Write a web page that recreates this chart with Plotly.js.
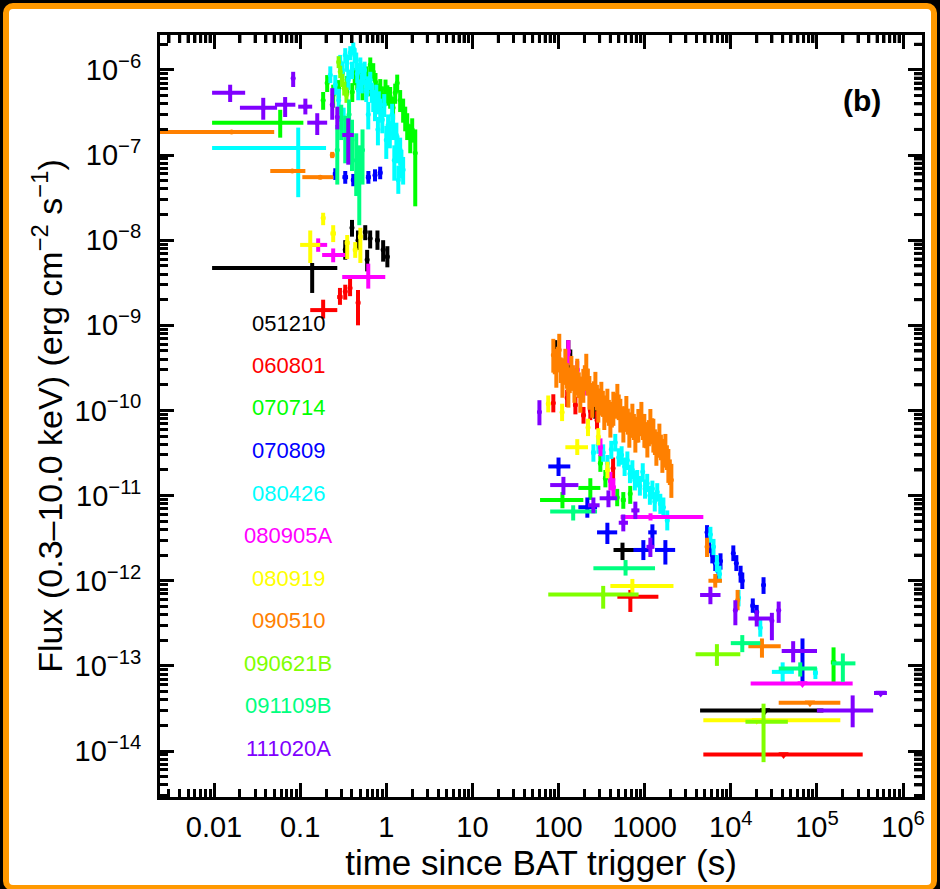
<!DOCTYPE html>
<html>
<head>
<meta charset="utf-8">
<script src="https://cdn.plot.ly/plotly-3.0.1.min.js"></script>
<style>
  html, body { margin:0; padding:0; background:#000; width:940px; height:889px; overflow:hidden; }
  #frame { position:absolute; left:3px; top:3px; width:922px; height:876px; border:6px solid #ff9900; border-radius:10px; background:#fff; }
  #plot { position:absolute; left:0; top:0; width:940px; height:889px; }
</style>
</head>
<body>
<div id="frame"></div>
<div id="plot"></div>
<script>
// ---- GRB names and colours ----
const grbNames  = ['051210','060801','070714','070809','080426','080905A','080919','090510','090621B','091109B','111020A'];
const grbColors = ['#000000','#ff0000','#00ff00','#0000ff','#00ffff','#ff00ff','#ffff00','#ff8000','#80ff00','#00ff80','#8000ff'];

// ---- tick labels ----
const xTickVals = [0.01,0.1,1,10,100,1000,1e4,1e5,1e6];
const xTickText = ['0.01','0.1','1','10','100','1000','10<sup>4</sup>','10<sup>5</sup>','10<sup>6</sup>'];
const yTickVals = [1e-14,1e-13,1e-12,1e-11,1e-10,1e-9,1e-8,1e-7,1e-6];
const yTickText = ['10<sup>−14</sup>','10<sup>−13</sup>','10<sup>−12</sup>','10<sup>−11</sup>','10<sup>−10</sup>','10<sup>−9</sup>','10<sup>−8</sup>','10<sup>−7</sup>','10<sup>−6</sup>'];

// ---- data rows: [t, tmin, tmax, flux, fluxmin, fluxmax] ----
const d051210 = [
 [0.138,0.0095,0.27,4.7e-9,2.4e-9,5.4e-9],
 [0.334,0.32,0.35,7.7e-9,5.9e-9,1.0e-8],
 [0.40,0.38,0.42,1.4e-8,1.1e-8,1.73e-8],
 [0.47,0.45,0.49,1.0e-8,7.7e-9,1.3e-8],
 [0.57,0.55,0.60,1.25e-8,1.0e-8,1.5e-8],
 [0.60,0.58,0.63,5.9e-9,4.3e-9,7.7e-9],
 [0.65,0.63,0.68,1.05e-8,8e-9,1.3e-8],
 [0.79,0.75,0.83,1.0e-8,7.7e-9,1.3e-8],
 [0.92,0.88,0.97,7.7e-9,5.6e-9,1.0e-8],
 [1.03,0.98,1.08,6.4e-9,4.8e-9,8.5e-9],
 [92,89,95,4.9e-10,3.4e-10,6.7e-10],
 [97,95,100,4.0e-10,3.0e-10,5.5e-10],
 [130,126,134,4.9e-10,3.4e-10,6.7e-10],
 [137,134,141,3.9e-10,2.9e-10,5.2e-10],
 [267,250,285,9.5e-11,8e-11,1.15e-10],
 [553,435,1080,2.3e-12,1.75e-12,2.8e-12]
];
const ul051210 = [[2.5e4,4400,1.19e5,3.0e-14]];

const d060801 = [
 [0.185,0.131,0.27,1.51e-9,1.2e-9,2.0e-9],
 [0.29,0.27,0.31,2.15e-9,1.74e-9,2.75e-9],
 [0.334,0.32,0.35,2.5e-9,2.0e-9,3.0e-9],
 [0.38,0.36,0.40,2.75e-9,2.2e-9,3.5e-9],
 [0.47,0.45,0.50,1.84e-9,1.0e-9,2.6e-9],
 [87,84,90,1.22e-10,9.5e-11,1.55e-10],
 [126,120,132,1.4e-10,1.1e-10,1.75e-10],
 [157,150,165,1.16e-10,9e-11,1.45e-10],
 [195,185,205,8.8e-11,7e-11,1.1e-10],
 [234,222,246,1.0e-10,7.7e-11,1.3e-10],
 [280,265,295,7.7e-11,6e-11,9.8e-11],
 [430,410,450,2.1e-11,1.5e-11,2.8e-11],
 [682,482,1443,6.5e-13,4.3e-13,7.8e-13]
];
const ul060801 = [[4.1e4,4800,3.4e5,9.1e-15]];

const d070714 = [
 [0.0587,0.0095,0.109,2.4e-7,1.6e-7,3.4e-7],
 [0.185,0.185,0.185,4.4e-7,3.4e-7,5.5e-7],
 [0.206,0.206,0.206,7.0e-7,5.5e-7,8.7e-7],
 [0.242,0.242,0.242,5.1e-7,3.6e-7,6.7e-7],
 [0.28,0.28,0.28,6.1e-7,4.6e-7,7.6e-7],
 [0.308,0.308,0.308,9.2e-7,7.6e-7,1.15e-6],
 [0.352,0.352,0.352,6.7e-7,5.1e-7,8.5e-7],
 [0.403,0.403,0.403,5.5e-7,4.2e-7,7.0e-7],
 [0.43,0.43,0.43,8.5e-7,6.6e-7,1.05e-6],
 [0.46,0.46,0.46,7.6e-7,5.8e-7,9.5e-7],
 [0.50,0.50,0.50,9.8e-7,7.8e-7,1.2e-6],
 [0.53,0.53,0.53,5.8e-7,4.4e-7,7.4e-7],
 [0.586,0.586,0.586,8.7e-7,6.9e-7,1.1e-6],
 [0.62,0.62,0.62,6.4e-7,4.9e-7,8.2e-7],
 [0.652,0.652,0.652,1.15e-6,9.0e-7,1.4e-6],
 [0.706,0.706,0.706,9.5e-7,7.4e-7,1.2e-6],
 [0.75,0.75,0.75,7.2e-7,5.5e-7,9.2e-7],
 [0.786,0.786,0.786,5.4e-7,4.0e-7,6.9e-7],
 [0.852,0.852,0.852,6.1e-7,4.6e-7,7.8e-7],
 [0.89,0.89,0.89,5.0e-7,3.7e-7,6.4e-7],
 [0.923,0.923,0.923,4.1e-7,3.0e-7,5.4e-7],
 [0.98,0.98,0.98,6.0e-7,4.6e-7,7.7e-7],
 [1.03,1.03,1.03,5.1e-7,3.8e-7,6.6e-7],
 [1.11,1.11,1.11,4.8e-7,3.5e-7,6.3e-7],
 [1.2,1.2,1.2,3.6e-7,2.6e-7,4.8e-7],
 [1.27,1.27,1.27,5.4e-7,4.0e-7,6.9e-7],
 [1.34,1.34,1.34,7.0e-7,5.4e-7,8.8e-7],
 [1.45,1.45,1.45,4.4e-7,3.2e-7,5.8e-7],
 [1.57,1.57,1.57,3.4e-7,2.4e-7,4.6e-7],
 [1.66,1.66,1.66,2.7e-7,1.9e-7,3.7e-7],
 [1.75,1.75,1.75,2.26e-7,1.5e-7,3.1e-7],
 [1.9,1.9,1.9,1.6e-7,1.05e-7,2.3e-7],
 [2.0,2.0,2.0,2.0e-7,1.4e-7,2.7e-7],
 [2.17,2.1,2.24,1.06e-7,2.5e-8,2.0e-7],
 [111,61,194,8.9e-12,7.1e-12,1.1e-11],
 [234,170,306,1.23e-11,8.9e-12,1.6e-11],
 [306,290,325,2.4e-11,1.9e-11,3.0e-11],
 [350,330,370,1.6e-11,1.25e-11,2.0e-11],
 [480,455,505,9.5e-12,7.5e-12,1.2e-11],
 [565,530,600,8.9e-12,7e-12,1.1e-11],
 [680,650,710,1.05e-11,8e-12,1.3e-11],
 [1.56e5,1.45e5,1.68e5,1.1e-13,6.3e-14,1.65e-13]
];

const d070809 = [
 [0.256,0.24,0.275,6.0e-8,5.1e-8,7.0e-8],
 [0.334,0.31,0.36,5.5e-8,4.6e-8,6.5e-8],
 [0.414,0.39,0.44,5.1e-8,4.3e-8,6.0e-8],
 [0.47,0.45,0.50,4.7e-8,3.9e-8,5.6e-8],
 [0.62,0.58,0.66,5.5e-8,4.6e-8,6.5e-8],
 [0.74,0.70,0.78,5.8e-8,4.9e-8,6.8e-8],
 [0.85,0.80,0.90,6.2e-8,5.2e-8,7.3e-8],
 [100,76,137,2.2e-11,1.7e-11,2.8e-11],
 [216,170,280,7.3e-12,5.5e-12,9.5e-12],
 [369,280,480,3.7e-12,2.7e-12,4.8e-12],
 [966,740,1170,2.3e-12,1.75e-12,3.0e-12],
 [1230,1100,1380,3.7e-12,2.6e-12,4.6e-12],
 [1740,1320,2260,2.3e-12,1.55e-12,3.0e-12],
 [5300,5100,5500,3.7e-12,3.0e-12,4.5e-12],
 [5600,5400,5800,2.6e-12,2.1e-12,3.2e-12],
 [6100,5900,6300,2.0e-12,1.6e-12,2.5e-12],
 [6600,6400,6800,1.6e-12,1.3e-12,2.0e-12],
 [7200,7000,7400,1.3e-12,1.05e-12,1.6e-12],
 [7600,7400,7800,1.7e-12,1.35e-12,2.1e-12],
 [1.07e4,1.03e4,1.11e4,2.1e-12,1.7e-12,2.6e-12],
 [1.16e4,1.12e4,1.2e4,1.6e-12,1.3e-12,2.0e-12],
 [1.3e4,1.25e4,1.35e4,1.2e-12,9.5e-13,1.5e-12],
 [1.36e4,1.3e4,1.42e4,1.0e-12,8e-13,1.25e-12],
 [1.8e4,1.7e4,1.9e4,5.1e-13,4.2e-13,6.2e-13],
 [2.0e4,1.9e4,2.1e4,4.3e-13,3.5e-13,5.2e-13],
 [2.4e4,2.3e4,2.5e4,8.9e-13,7.0e-13,1.1e-12],
 [6.8e4,4.1e4,1.0e5,1.5e-13,6.2e-14,2.1e-13]
];

const d080426 = [
 [0.095,0.0095,0.2,1.21e-7,3.2e-8,2.1e-7],
 [0.224,0.224,0.224,8.7e-7,7.0e-7,1.1e-6],
 [0.256,0.256,0.256,6.7e-7,5.1e-7,8.7e-7],
 [0.28,0.28,0.28,4.4e-7,3.0e-7,6.0e-7],
 [0.292,0.292,0.292,1.24e-6,1.0e-6,1.5e-6],
 [0.31,0.31,0.31,1.0e-6,8.0e-7,1.25e-6],
 [0.32,0.32,0.32,2.6e-7,1.7e-7,3.6e-7],
 [0.334,0.334,0.334,1.5e-6,1.2e-6,1.8e-6],
 [0.35,0.35,0.35,1.2e-6,9.5e-7,1.5e-6],
 [0.362,0.362,0.362,7.6e-7,5.8e-7,1.0e-6],
 [0.382,0.382,0.382,1.6e-6,1.3e-6,1.9e-6],
 [0.40,0.40,0.40,1.0e-6,7.8e-7,1.25e-6],
 [0.414,0.414,0.414,1.8e-6,1.5e-6,2.1e-6],
 [0.43,0.43,0.43,1.5e-6,1.2e-6,1.8e-6],
 [0.448,0.448,0.448,1.3e-6,1.0e-6,1.6e-6],
 [0.46,0.46,0.46,9.0e-7,7.0e-7,1.15e-6],
 [0.473,0.473,0.473,5.8e-7,4.4e-7,7.6e-7],
 [0.5,0.5,0.5,1.15e-6,9e-7,1.4e-6],
 [0.52,0.52,0.52,7.0e-7,5.3e-7,9.0e-7],
 [0.54,0.54,0.54,8.7e-7,6.7e-7,1.1e-6],
 [0.56,0.56,0.56,1.0e-6,7.8e-7,1.25e-6],
 [0.586,0.586,0.586,5.8e-7,4.2e-7,7.6e-7],
 [0.60,0.60,0.60,6.5e-7,4.9e-7,8.4e-7],
 [0.618,0.618,0.618,3.0e-7,2.0e-7,4.2e-7],
 [0.652,0.652,0.652,7.6e-7,5.8e-7,9.5e-7],
 [0.68,0.68,0.68,5.5e-7,4.1e-7,7.1e-7],
 [0.706,0.706,0.706,4.4e-7,3.2e-7,5.8e-7],
 [0.74,0.74,0.74,3.5e-7,2.5e-7,4.7e-7],
 [0.765,0.765,0.765,5.1e-7,3.8e-7,6.7e-7],
 [0.8,0.8,0.8,2.0e-7,1.3e-7,2.8e-7],
 [0.82,0.82,0.82,4.2e-7,3.0e-7,5.6e-7],
 [0.852,0.852,0.852,3.4e-7,2.4e-7,4.6e-7],
 [0.90,0.90,0.90,2.6e-7,1.8e-7,3.6e-7],
 [0.948,0.948,0.948,3.9e-7,2.8e-7,5.2e-7],
 [1.0,1.0,1.0,1.5e-7,9e-8,2.2e-7],
 [1.05,1.05,1.05,2.26e-7,1.6e-7,3.0e-7],
 [1.10,1.10,1.10,1.8e-7,1.2e-7,2.5e-7],
 [1.17,1.17,1.17,3.0e-7,2.1e-7,4.0e-7],
 [1.20,1.20,1.20,2.2e-7,1.5e-7,3.0e-7],
 [1.24,1.24,1.24,8.7e-8,5e-8,1.3e-7],
 [1.31,1.31,1.31,1.72e-7,1.1e-7,2.4e-7],
 [1.35,1.35,1.35,1.2e-7,8e-8,1.7e-7],
 [1.38,1.38,1.38,5.1e-8,3.5e-8,7.5e-8],
 [1.45,1.45,1.45,1.15e-7,7.5e-8,1.6e-7],
 [1.50,1.50,1.50,8.0e-8,5.3e-8,1.15e-7],
 [1.57,1.57,1.57,6.7e-8,4.5e-8,9.5e-8],
 [254,240,270,3.2e-11,2.5e-11,4.0e-11],
 [290,275,305,4.0e-11,3.1e-11,5.0e-11],
 [330,315,345,3.2e-11,2.5e-11,4.0e-11],
 [370,355,385,2.4e-11,1.9e-11,3.0e-11],
 [410,395,425,3.5e-11,2.7e-11,4.4e-11],
 [456,435,475,4.2e-11,3.3e-11,5.3e-11],
 [500,480,520,2.8e-11,2.2e-11,3.6e-11],
 [540,520,560,3.0e-11,2.3e-11,3.8e-11],
 [585,565,605,2.2e-11,1.7e-11,2.8e-11],
 [630,605,655,2.6e-11,2.0e-11,3.3e-11],
 [675,655,695,1.8e-11,1.4e-11,2.3e-11],
 [720,695,745,2.0e-11,1.55e-11,2.6e-11],
 [770,745,795,1.5e-11,1.15e-11,1.95e-11],
 [820,790,850,1.6e-11,1.25e-11,2.0e-11],
 [880,850,910,1.3e-11,1.0e-11,1.7e-11],
 [950,915,985,1.9e-11,1.45e-11,2.4e-11],
 [1010,985,1035,1.2e-11,9.2e-12,1.55e-11],
 [1070,1030,1110,1.4e-11,1.1e-11,1.8e-11],
 [1150,1110,1190,1.0e-11,7.8e-12,1.3e-11],
 [1230,1185,1275,1.2e-11,9e-12,1.5e-11],
 [1310,1275,1345,8.5e-12,6.5e-12,1.1e-11],
 [1400,1350,1450,1.1e-11,8.5e-12,1.4e-11],
 [1520,1460,1580,8.0e-12,6.1e-12,1.05e-11],
 [1650,1590,1710,7.3e-12,5.5e-12,9.5e-12],
 [1830,1760,1900,5.1e-12,3.9e-12,6.7e-12],
 [5800,5600,6000,3.5e-12,2.8e-12,4.3e-12],
 [6300,6100,6500,2.5e-12,2.0e-12,3.1e-12],
 [6900,6700,7100,1.6e-12,1.25e-12,2.0e-12],
 [7400,7200,7600,1.2e-12,9.5e-13,1.5e-12],
 [1.23e4,1.19e4,1.27e4,6.3e-13,5.0e-13,7.8e-13],
 [2.2e4,2.1e4,2.3e4,2.8e-13,2.2e-13,3.5e-13],
 [4.0e4,3.0e4,5.4e4,8.5e-14,6.5e-14,1.1e-13],
 [9.6e4,9.0e4,1.02e5,8.3e-14,7.0e-14,9.5e-14]
];

const d080905A = [
 [0.162,0.131,0.206,8.8e-9,7.3e-9,1.05e-8],
 [0.242,0.18,0.334,6.7e-9,5.5e-9,8e-9],
 [0.618,0.308,0.974,3.7e-9,2.7e-9,5.3e-9],
 [130,126,134,4.9e-10,3.4e-10,6.7e-10],
 [144,135,153,2.5e-10,1.9e-10,3.2e-10],
 [165,155,175,3.0e-10,2.3e-10,3.8e-10],
 [205,190,220,2.0e-10,1.5e-10,2.6e-10],
 [234,220,250,1.5e-10,1.15e-10,1.95e-10],
 [307,290,325,3.7e-11,2.9e-11,4.7e-11],
 [400,375,425,1.5e-11,1.15e-11,1.9e-11],
 [433,410,460,1.25e-11,9.5e-12,1.6e-11],
 [1170,525,4800,5.6e-12,5.1e-12,6.2e-12]
];
const ul080905A = [[6.8e4,1.7e4,2.6e5,6.2e-14]];

const d080919 = [
 [0.185,0.175,0.196,1.82e-8,1.5e-8,2.1e-8],
 [0.131,0.1,0.171,8.8e-9,5.4e-9,1.3e-8],
 [0.242,0.225,0.26,1.2e-8,9.5e-9,1.5e-8],
 [0.352,0.33,0.375,9.3e-9,6.0e-9,1.15e-8],
 [0.436,0.41,0.46,7.7e-9,6.2e-9,9.5e-9],
 [0.5,0.47,0.53,1.1e-8,5.4e-9,1.4e-8],
 [76,72,80,1.2e-10,9.5e-11,1.5e-10],
 [110,104,116,9.5e-11,7.5e-11,1.2e-10],
 [165,120,220,3.7e-11,3.0e-11,4.6e-11],
 [220,208,232,6.3e-11,5.0e-11,8.0e-11],
 [290,275,305,4.9e-11,3.9e-11,6.2e-11],
 [370,350,390,2.0e-11,1.6e-11,2.5e-11],
 [720,400,2160,8.7e-13,7.2e-13,1.05e-12]
];
const ul080919 = [[2.0e4,4800,1.87e5,2.3e-14]];

const d090510 = [
 [0.016,0.002,0.05,1.87e-7,1.8e-7,1.95e-7],
 [0.081,0.045,0.115,6.5e-8,6.2e-8,6.8e-8],
 [0.171,0.106,0.242,5.5e-8,5.2e-8,5.8e-8],
 [0.236,0.225,0.25,1.0e-7,9.2e-8,1.09e-7],
 [87,85,89,4.48e-10,2.78e-10,6.94e-10],
 [90.5,88.5,92.5,3.8e-10,2.66e-10,5.3e-10],
 [94.3,92.3,96.3,2.99e-10,1.85e-10,4.63e-10],
 [98,96,100,4.0e-10,2.8e-10,5.6e-10],
 [102,100,104,5.13e-10,3.18e-10,7.95e-10],
 [106,104,108,3.0e-10,2.1e-10,4.2e-10],
 [111,109,113,2.28e-10,1.41e-10,3.53e-10],
 [115,113,117,2.9e-10,2.0e-10,4.1e-10],
 [120,118,122,3.42e-10,2.12e-10,5.3e-10],
 [125,122,128,2.6e-10,1.8e-10,3.6e-10],
 [130,127,133,1.74e-10,1.08e-10,2.7e-10],
 [135,132,138,2.3e-10,1.6e-10,3.2e-10],
 [141,138,144,2.82e-10,1.75e-10,4.37e-10],
 [147,144,150,2.4e-10,1.7e-10,3.4e-10],
 [153,150,156,1.99e-10,1.23e-10,3.08e-10],
 [159,156,162,2.2e-10,1.5e-10,3.1e-10],
 [165,162,168,2.61e-10,1.62e-10,4.05e-10],
 [172,169,175,2.0e-10,1.4e-10,2.8e-10],
 [179,175,183,1.52e-10,9.4e-11,2.36e-10],
 [186,182,190,1.8e-10,1.26e-10,2.5e-10],
 [194,190,198,1.99e-10,1.23e-10,3.08e-10],
 [202,198,206,2.4e-10,1.7e-10,3.4e-10],
 [210,206,214,2.99e-10,1.85e-10,4.63e-10],
 [219,214,224,2.2e-10,1.5e-10,3.1e-10],
 [228,223,233,1.64e-10,1.02e-10,2.54e-10],
 [237,232,242,1.5e-10,1.05e-10,2.1e-10],
 [247,242,252,1.32e-10,8.2e-11,2.05e-10],
 [257,252,262,1.6e-10,1.1e-10,2.2e-10],
 [268,262,274,1.83e-10,1.13e-10,2.84e-10],
 [279,273,285,1.45e-10,1.0e-10,2.0e-10],
 [290,284,296,1.16e-10,7.2e-11,1.8e-10],
 [302,296,308,1.3e-10,9.1e-11,1.8e-10],
 [314,308,320,1.40e-10,8.7e-11,2.17e-10],
 [327,320,334,1.2e-10,8.4e-11,1.7e-10],
 [340,333,347,9.57e-11,5.9e-11,1.48e-10],
 [354,347,361,1.05e-10,7.3e-11,1.5e-10],
 [369,361,377,1.16e-10,7.2e-11,1.8e-10],
 [384,376,392,9.5e-11,6.6e-11,1.33e-10],
 [400,392,408,7.71e-11,4.8e-11,1.2e-10],
 [416,408,424,9.0e-11,6.3e-11,1.26e-10],
 [433,424,442,1.07e-10,6.6e-11,1.66e-10],
 [457,448,466,1.15e-10,8.0e-11,1.6e-10],
 [482,472,492,1.32e-10,8.2e-11,2.05e-10],
 [500,490,510,1.1e-10,7.7e-11,1.54e-10],
 [522,512,532,8.83e-11,5.5e-11,1.37e-10],
 [543,532,554,8.0e-11,5.6e-11,1.12e-10],
 [566,555,577,6.73e-11,4.2e-11,1.04e-10],
 [590,578,602,8.0e-11,5.6e-11,1.12e-10],
 [613,601,625,9.57e-11,5.9e-11,1.48e-10],
 [638,625,651,7.5e-11,5.2e-11,1.05e-10],
 [664,651,677,5.89e-11,3.65e-11,9.1e-11],
 [692,678,706,6.8e-11,4.8e-11,9.5e-11],
 [720,706,734,7.71e-11,4.8e-11,1.2e-10],
 [750,735,765,6.5e-11,4.5e-11,9.1e-11],
 [780,764,796,5.14e-11,3.2e-11,8.0e-11],
 [812,796,828,6.0e-11,4.2e-11,8.4e-11],
 [845,828,862,6.73e-11,4.2e-11,1.04e-10],
 [880,862,898,7.2e-11,5.0e-11,1.0e-10],
 [916,898,934,8.14e-11,5.0e-11,1.26e-10],
 [954,935,973,6.5e-11,4.5e-11,9.1e-11],
 [992,972,1012,5.89e-11,3.65e-11,9.1e-11],
 [1033,1012,1054,5.2e-11,3.6e-11,7.3e-11],
 [1075,1053,1097,4.49e-11,2.8e-11,7.0e-11],
 [1120,1097,1143,5.5e-11,3.8e-11,7.7e-11],
 [1165,1142,1188,6.73e-11,4.2e-11,1.04e-10],
 [1213,1189,1237,5.8e-11,4.0e-11,8.1e-11],
 [1262,1237,1287,5.14e-11,3.2e-11,8.0e-11],
 [1315,1289,1341,4.3e-11,3.0e-11,6.0e-11],
 [1368,1341,1395,3.61e-11,2.24e-11,5.6e-11],
 [1425,1397,1453,4.0e-11,2.8e-11,5.6e-11],
 [1482,1452,1512,4.49e-11,2.8e-11,7.0e-11],
 [1544,1513,1575,3.7e-11,2.6e-11,5.2e-11],
 [1606,1574,1638,2.99e-11,1.85e-11,4.63e-11],
 [1672,1639,1705,3.2e-11,2.2e-11,4.5e-11],
 [1740,1705,1775,3.43e-11,2.13e-11,5.3e-11],
 [1812,1776,1848,2.8e-11,2.0e-11,3.9e-11],
 [1885,1847,1923,2.28e-11,1.41e-11,3.53e-11],
 [1960,1921,1999,1.9e-11,1.33e-11,2.66e-11],
 [2042,2001,2083,1.52e-11,9.4e-12,2.36e-11],
 [5300,5200,5400,2.5e-12,1.9e-12,3.2e-12],
 [6600,5500,7900,1.0e-12,8.3e-13,1.2e-12],
 [1.2e4,1.15e4,1.25e4,5.9e-13,4.5e-13,7.8e-13],
 [2.3e4,1.6e4,3.8e4,1.7e-13,1.25e-13,2.1e-13]
];
const ul090510 = [[8.3e4,3.6e4,1.87e5,3.7e-14]];

const d090621B = [
 [0.28,0.275,0.285,1.24e-6,1.05e-6,1.45e-6],
 [0.292,0.285,0.3,9.5e-7,8e-7,1.12e-6],
 [0.308,0.3,0.316,7.6e-7,6.3e-7,9e-7],
 [0.325,0.316,0.334,6.1e-7,5e-7,7.3e-7],
 [0.345,0.334,0.356,5.1e-7,4.1e-7,6.2e-7],
 [330,76,850,6.9e-13,4.7e-13,8.7e-13],
 [6900,3900,1.29e4,1.37e-13,1.0e-13,1.8e-13],
 [2.4e4,1.48e4,4.6e4,2.2e-14,7.4e-15,3.6e-14]
];

const d091109B = [
 [0.27,0.265,0.275,1.15e-7,4.5e-8,2.26e-7],
 [0.30,0.295,0.305,2.6e-7,1.5e-7,3.9e-7],
 [0.334,0.328,0.34,1.72e-7,8e-8,2.9e-7],
 [0.37,0.364,0.376,3.0e-7,1.7e-7,4.5e-7],
 [0.40,0.394,0.406,1.5e-7,6.5e-8,2.6e-7],
 [0.448,0.44,0.456,8.7e-8,3.3e-8,1.8e-7],
 [0.486,0.478,0.494,5.8e-8,1.5e-8,1.3e-7],
 [0.53,0.52,0.54,1.15e-7,4.5e-8,2.0e-7],
 [148,80,280,6.5e-12,5.1e-12,7.7e-12],
 [600,254,1320,1.4e-12,1.15e-12,1.75e-12],
 [1.36e4,1.0e4,2.2e4,1.85e-13,1.45e-13,2.3e-13],
 [6.4e4,3.6e4,1.0e5,9.3e-14,7.5e-14,1.1e-13],
 [2.0e5,1.5e5,2.8e5,1.07e-13,6.5e-14,1.4e-13]
];

const d111020A = [
 [0.0154,0.0095,0.023,5.4e-7,4.2e-7,6.7e-7],
 [0.083,0.08,0.086,8.0e-7,6.3e-7,9.5e-7],
 [0.0373,0.02,0.054,3.6e-7,2.6e-7,4.7e-7],
 [0.067,0.051,0.088,3.9e-7,2.8e-7,4.8e-7],
 [0.115,0.095,0.138,3.7e-7,3.0e-7,4.6e-7],
 [0.158,0.121,0.206,2.4e-7,1.72e-7,3.1e-7],
 [0.236,0.225,0.248,3.9e-7,2.6e-7,6.1e-7],
 [0.27,0.26,0.28,2.8e-7,2.0e-7,3.7e-7],
 [0.362,0.308,0.42,1.72e-7,7.7e-8,2.7e-7],
 [60,58,62,9.6e-11,6.7e-11,1.32e-10],
 [114,80,170,1.33e-11,1.02e-11,1.66e-11],
 [254,220,300,7.7e-12,6.2e-12,9.5e-12],
 [380,300,480,9.3e-12,7.3e-12,1.15e-11],
 [565,500,640,4.8e-12,3.8e-12,6.0e-12],
 [780,700,870,6.7e-12,5.3e-12,8.5e-12],
 [1165,1050,1300,2.5e-12,1.9e-12,3.2e-12],
 [5800,4400,7600,6.8e-13,5.3e-13,8.5e-13],
 [1.13e4,1.08e4,1.18e4,4.5e-13,3.0e-13,5.9e-13],
 [2.0e4,1.6e4,2.9e4,3.6e-13,2.9e-13,4.5e-13],
 [3.0e4,2.9e4,3.1e4,3.4e-13,2.0e-13,4.2e-13],
 [3.6e4,3.5e4,3.7e4,4.5e-13,3.2e-13,5.7e-13],
 [5.3e4,3.9e4,1.0e5,1.5e-13,1.1e-13,1.95e-13],
 [2.6e5,1.0e5,4.5e5,3.0e-14,1.9e-14,4.5e-14]
];
const ul111020A = [[5.5e5,4.6e5,6.5e5,4.8e-14]];

const grbData = [d051210,d060801,d070714,d070809,d080426,d080905A,d080919,d090510,d090621B,d091109B,d111020A];
const grbUL   = [ul051210,ul060801,null,null,null,ul080905A,ul080919,ul090510,null,null,ul111020A];

// ---- build traces ----
const FONT = 'Liberation Sans, Arial, Helvetica, sans-serif';
const traces = [];
grbData.forEach((rows, i) => {
  const c = grbColors[i];
  traces.push({
    type:'scatter', mode:'markers', name:grbNames[i], showlegend:false,
    x: rows.map(r=>r[0]), y: rows.map(r=>r[3]),
    marker:{color:c, size:5},
    error_x:{type:'data', symmetric:false, array: rows.map(r=>r[2]-r[0]), arrayminus: rows.map(r=>r[0]-r[1]), color:c, thickness:4, width:0},
    error_y:{type:'data', symmetric:false, array: rows.map(r=>r[5]-r[3]), arrayminus: rows.map(r=>r[3]-r[4]), color:c, thickness:4, width:0}
  });
  const ul = grbUL[i];
  if (ul) {
    traces.push({
      type:'scatter', mode:'markers', showlegend:false,
      x: ul.map(r=>r[0]), y: ul.map(r=>r[3]),
      marker:{color:c, size:9, symbol:'triangle-down'},
      error_x:{type:'data', symmetric:false, array: ul.map(r=>r[2]-r[0]), arrayminus: ul.map(r=>r[0]-r[1]), color:c, thickness:4, width:0}
    });
  }
});

// plot area in pixels
const L=160, R=922, T=35, B=797, W=940, H=889;
const px2x = p => (p-L)/(R-L);
const px2y = p => (B-p)/(B-T);
const XR = [-2.627, 6.22], YR = [-14.54, -5.59];

// minor tick positions (2..9 per decade) inside the axis ranges
const minorX = [], minorY = [];
for (let k=-3;k<=6;k++) for (let m=2;m<=9;m++) { const v=m*Math.pow(10,k); if (Math.log10(v)>XR[0] && Math.log10(v)<XR[1]) minorX.push(v); }
for (let k=-15;k<=-6;k++) for (let m=2;m<=9;m++) { const v=m*Math.pow(10,k); if (Math.log10(v)>YR[0] && Math.log10(v)<YR[1]) minorY.push(v); }

// mirrored minor ticks on the top and right frame edges (drawn as shapes in data units)
const MINLEN = 8;
const shapes = [];
minorX.forEach(v => shapes.push({type:'line', layer:'above', xref:'x', yref:'paper', x0:v, x1:v, y0:1, y1:1-MINLEN/(B-T), line:{color:'#000', width:3}}));
minorY.forEach(v => shapes.push({type:'line', layer:'above', xref:'paper', yref:'y', x0:1, x1:1-MINLEN/(R-L), y0:v, y1:v, line:{color:'#000', width:3}}));

const annotations = grbNames.map((n,i)=>({
  xref:'paper', yref:'paper', x:px2x(288), y:px2y(323+i*42.5),
  text:n, showarrow:false, xanchor:'center', yanchor:'middle',
  font:{family:FONT, size:22, color:grbColors[i]}
}));
annotations.push({xref:'paper', yref:'paper', x:px2x(862), y:px2y(100), text:'<b>(b)</b>', showarrow:false,
  xanchor:'center', yanchor:'middle', font:{family:FONT, size:30, color:'#000'}});

const base = {type:'log', showgrid:false, zeroline:false, tickmode:'array', tickcolor:'#000',
  ticks:'inside', ticklen:14, tickwidth:3, mirror:'allticks', showline:true, linewidth:3, linecolor:'#000'};
const minorStyle = {ticks:'inside', ticklen:MINLEN, tickwidth:3, tickcolor:'#000', showgrid:false, tickmode:'array'};

const layout = {
  width:W, height:H,
  margin:{l:L, r:W-R, t:T, b:H-B},
  paper_bgcolor:'rgba(0,0,0,0)', plot_bgcolor:'rgba(0,0,0,0)',
  showlegend:false,
  xaxis: Object.assign({}, base, {
    range:XR, tickvals:xTickVals, ticktext:xTickText,
    tickfont:{family:FONT, size:29, color:'#000'}, ticklabelstandoff:2,
    title:{text:'time since BAT trigger (s)', font:{family:FONT, size:35, color:'#000'}, standoff:2},
    minor:Object.assign({tickvals:minorX}, minorStyle)
  }),
  yaxis: Object.assign({}, base, {
    range:YR, tickvals:yTickVals, ticktext:yTickText,
    tickfont:{family:FONT, size:29, color:'#000'}, ticklabelstandoff:10,
    title:{text:'Flux (0.3–10.0 keV) (erg cm<sup>−2</sup> s<sup>−1</sup>)', font:{family:FONT, size:34, color:'#000'}, standoff:2},
    minor:Object.assign({tickvals:minorY}, minorStyle)
  }),
  shapes: shapes,
  annotations: annotations
};

Plotly.newPlot('plot', traces, layout, {staticPlot:true, displayModeBar:false});
</script>
</body>
</html>
